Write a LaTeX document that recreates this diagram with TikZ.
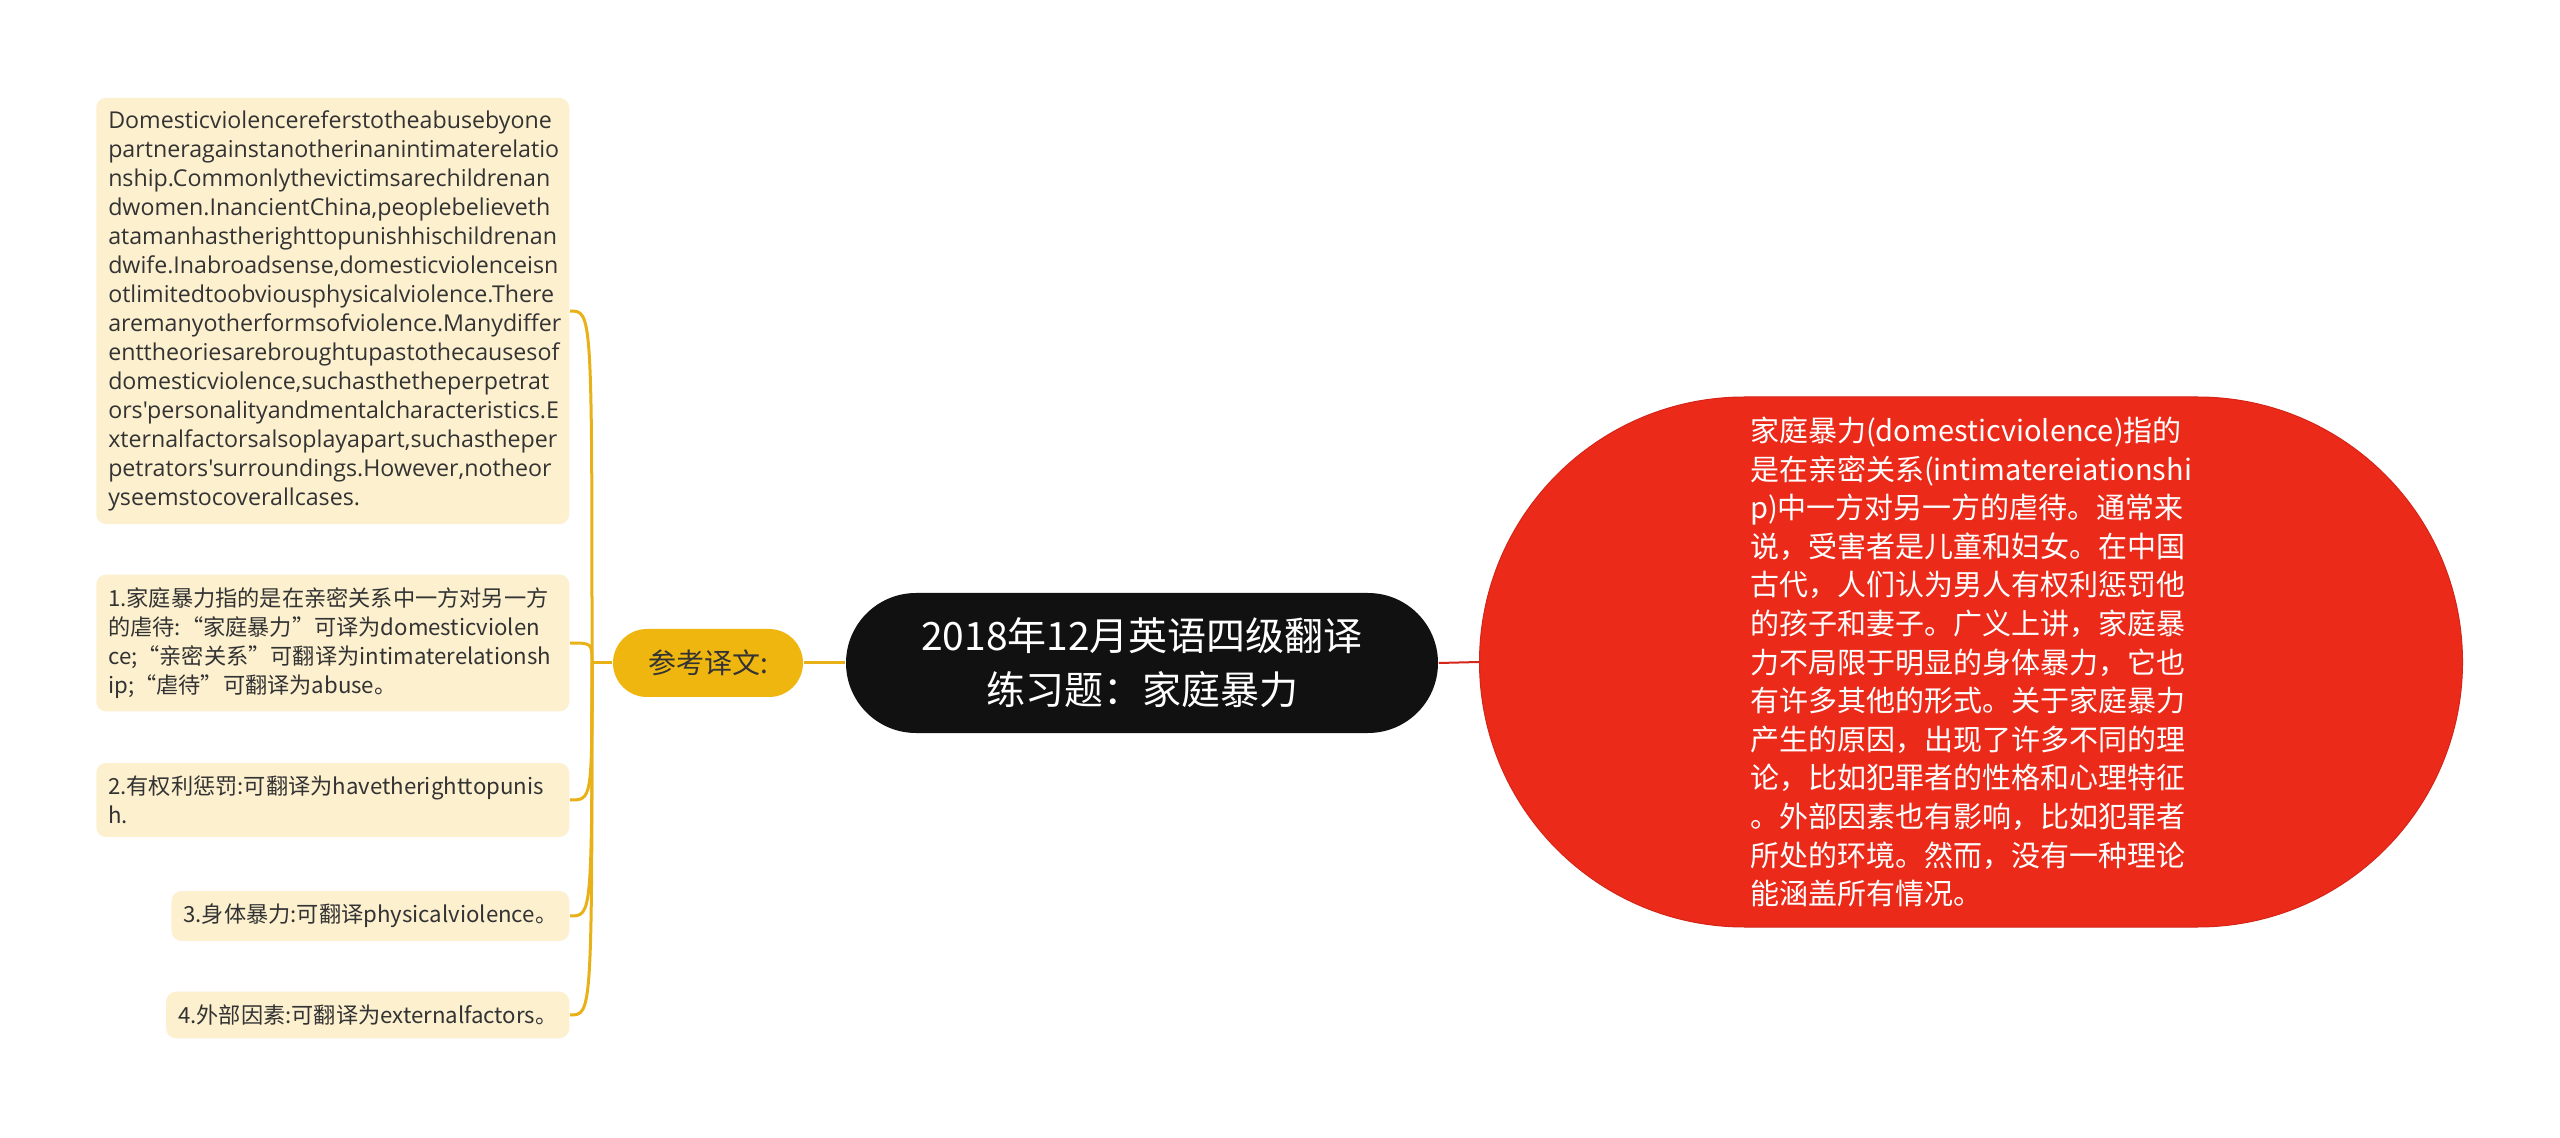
\documentclass[tikz,border=0pt]{standalone}
\usepackage{fontspec}
\setmainfont{Noto Sans CJK SC}
\newfontfamily\latinfont{Open Sans}[Ligatures=TeXOff]

\definecolor{notefill}{HTML}{FCF0CF}
\definecolor{notetext}{HTML}{333333}
\definecolor{gold}{HTML}{EFB60F}
\definecolor{goldline}{HTML}{E8B118}
\definecolor{rootfill}{HTML}{111111}
\definecolor{redfill}{HTML}{EC2A1A}
\definecolor{redline}{HTML}{D42518}

\tikzset{every picture/.style={line width=0.75pt}}
\tikzset{
  note/.style={fill=notefill, rounded corners=5pt, anchor=east, align=left,
    inner xsep=6pt, inner ysep=6.5pt, text=notetext,
    font=\fontsize{11.1pt}{14.5pt}\selectfont},
  wide/.style={text width=224.5pt},
  root/.style={fill=rootfill, text=white, align=center, minimum width=296pt,
    minimum height=70pt, rounded corners=35pt,
    font=\fontsize{19.5pt}{27pt}\selectfont},
  ckbox/.style={fill=gold, text=notetext, minimum width=95pt, minimum height=34pt,
    rounded corners=17pt, font=\fontsize{14pt}{17pt}\selectfont},
  detail/.style={fill=redfill, draw=redline, line width=0.5pt, text=white, align=left,
    minimum width=491.5pt, minimum height=265pt, rounded corners=132.5pt,
    font=\fontsize{14.5pt}{19.3pt}\selectfont},
  link/.style={draw=goldline, line width=1.5pt},
  redlink/.style={draw=redline, line width=1pt},
}

\begin{document}
\begin{tikzpicture}[x=0.5pt,y=0.5pt,yscale=-1]
\path[use as bounding box, fill=white] (0,0) rectangle (2560,1138);

% centre topic
\node[root] (root) at (1142,663) {2018年12月英语四级翻译\\练习题：家庭暴力};

% right branch
\node[detail] (detail) at (1971,662) {家庭暴力(domesticviolence)指的\\是在亲密关系(intimatereiationshi\\p)中一方对另一方的虐待。通常来\\说，受害者是儿童和妇女。在中国\\古代，人们认为男人有权利惩罚他\\的孩子和妻子。广义上讲，家庭暴\\力不局限于明显的身体暴力，它也\\有许多其他的形式。关于家庭暴力\\产生的原因，出现了许多不同的理\\论，比如犯罪者的性格和心理特征\\。外部因素也有影响，比如犯罪者\\所处的环境。然而，没有一种理论\\能涵盖所有情况。};

% left branch
\node[ckbox] (ck) at (708,663) {参考译文:};

\node[note, wide, font=\latinfont\fontsize{11.6pt}{14.5pt}\selectfont] (n0) at (570,311) {Domesticviolencereferstotheabusebyone\\partneragainstanotherinanintimaterelatio\\nship.Commonlythevictimsarechildrenan\\dwomen.InancientChina,peoplebelieveth\\atamanhastherighttopunishhischildrenan\\dwife.Inabroadsense,domesticviolenceisn\\otlimitedtoobviousphysicalviolence.There\\aremanyotherformsofviolence.Manydiffer\\enttheoriesarebroughtupastothecausesof\\domesticviolence,suchasthetheperpetrat\\ors'personalityandmentalcharacteristics.E\\xternalfactorsalsoplayapart,suchastheper\\petrators'surroundings.However,notheor\\yseemstocoverallcases.};
\node[note, wide] (n1) at (570,643) {1.家庭暴力指的是在亲密关系中一方对另一方\\的虐待:“家庭暴力”可译为domesticviolen\\ce;“亲密关系”可翻译为intimaterelationsh\\ip;“虐待”可翻译为abuse。};
\node[note, wide] (n2) at (570,800) {2.有权利惩罚:可翻译为havetherighttopunis\\h.};
\node[note] (n3) at (570,916) {3.身体暴力:可翻译physicalviolence。};
\node[note] (n4) at (570,1015) {4.外部因素:可翻译为externalfactors。};

% connectors
\coordinate (bus) at (592,663);
\draw[link] (ck.east) -- (root.west);
\draw[redlink] (root.east) -- (detail.west);
\draw[link] (ck.west) -- (bus);
\foreach \n in {n0,n1,n2,n3,n4}
  \draw[link] (bus) .. controls (bus |- \n.east) .. (\n.east);

\end{tikzpicture}
\end{document}
